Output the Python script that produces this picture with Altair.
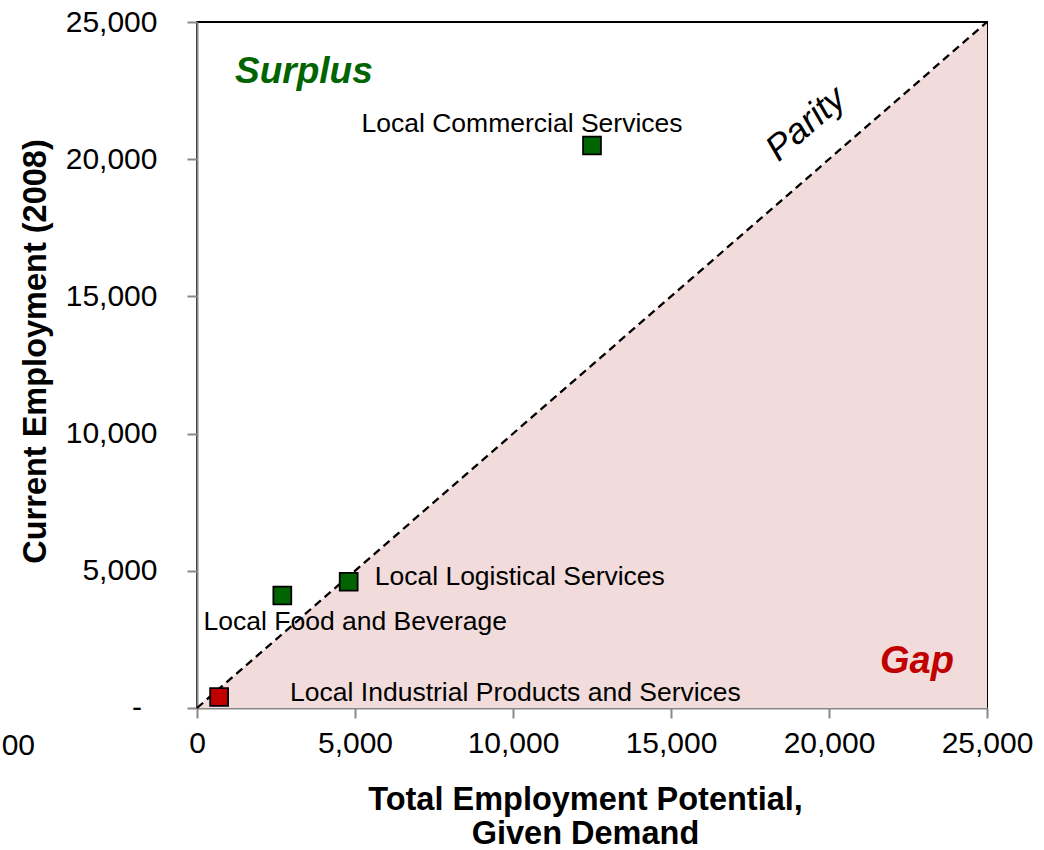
import altair as alt
import pandas as pd

# ---- data ----
clusters = ["Local Commercial Services", "Local Logistical Services",
            "Local Food and Beverage", "Local Industrial Products and Services"]
potential = [12500, 4800, 2700, 700]      # x: Total Employment Potential
current = [20500, 4600, 4100, 400]        # y: Current Employment (2008)
status = ["Surplus", "Surplus", "Surplus", "Gap"]
parity_vals = [0, 25000]
tick_vals = [0, 5000, 10000, 15000, 20000, 25000]

pts = pd.DataFrame({"cluster": clusters, "x": potential, "y": current, "status": status})
diag = pd.DataFrame({"x": parity_vals, "y": parity_vals})

FONT = "Liberation Sans"
GREEN = "#006400"
RED = "#C00000"

xscale = alt.Scale(domain=[0, 25000], nice=False, zero=False)
yscale = alt.Scale(domain=[0, 25000], nice=False, zero=False)

xaxis = alt.Axis(values=tick_vals, labelExpr="format(datum.value, ',')",
                 title=["Total Employment Potential,", "Given Demand"],
                 grid=False, domainColor="#888888", domainWidth=2, tickColor="#888888", tickWidth=2,
                 tickSize=10, labelFontSize=30, labelFont=FONT, labelColor="black", labelPadding=10,
                 labelFlush=False, labelOverlap=False,
                 titleFont=FONT, titleFontSize=32.5, titleFontWeight="bold", titleColor="black",
                 titleY=75, titleBaseline="top", titleLineHeight=34, titleX=388)
yaxis = alt.Axis(values=tick_vals,
                 labelExpr="datum.value == 0 ? '' : format(datum.value, ',')",
                 title="Current Employment (2008)", labelFlush=False, labelOverlap=False,
                 grid=False, domainColor="#888888", domainWidth=2, tickColor="#888888", tickWidth=2,
                 tickSize=10, labelFontSize=30, labelFont=FONT, labelColor="black", labelPadding=30,
                 titleFont=FONT, titleFontSize=32.5, titleFontWeight="bold", titleColor="black",
                 titleX=-162, titleY=329, titleAngle=270, titleAlign="center", titleBaseline="middle")

area = alt.Chart(diag).mark_area(color="#F2DCDB", opacity=1).encode(
    x=alt.X("x:Q", scale=xscale, axis=xaxis),
    y=alt.Y("y:Q", scale=yscale, axis=yaxis),
    y2=alt.datum(0),
)

line = alt.Chart(diag).mark_line(color="black", strokeDash=[8, 5], strokeWidth=2.3).encode(
    x=alt.X("x:Q", scale=xscale), y=alt.Y("y:Q", scale=yscale)
)

points = alt.Chart(pts).mark_point(shape="square", filled=True, size=320, stroke="black",
                                   strokeWidth=1.8, opacity=1).encode(
    x=alt.X("x:Q", scale=xscale), y=alt.Y("y:Q", scale=yscale),
    color=alt.Color("status:N", scale=alt.Scale(domain=["Surplus", "Gap"], range=[GREEN, RED]),
                    legend=None),
)

label_styles = {
    "Local Commercial Services": dict(align="center", dx=-70, dy=-21),
    "Local Logistical Services": dict(align="left", dx=26, dy=-5),
    "Local Food and Beverage": dict(align="center", dx=73, dy=27),
    "Local Industrial Products and Services": dict(align="left", dx=71, dy=-4),
}
labels = []
for name, st in label_styles.items():
    labels.append(
        alt.Chart(pts).transform_filter(alt.datum.cluster == name).mark_text(
            font=FONT, fontSize=26.5, color="black", baseline="middle", **st
        ).encode(x=alt.X("x:Q", scale=xscale), y=alt.Y("y:Q", scale=yscale), text="cluster:N")
    )

def note(txt, x, y, **kw):
    return alt.Chart(pd.DataFrame({"t": [txt]})).mark_text(font=FONT, **kw).encode(
        x=alt.value(x), y=alt.value(y), text="t:N")

surplus = note("Surplus", 38, 50, fontSize=37, fontWeight="bold", fontStyle="italic",
               color=GREEN, align="left", baseline="middle")
gap = note("Gap", 683, 640, fontSize=38, fontWeight="bold", fontStyle="italic",
           color=RED, align="left", baseline="middle")
parity = note("Parity", 609, 102, fontSize=36, fontStyle="italic", color="black",
              align="center", baseline="middle", angle=319)
stray = note("00", -162, 724, fontSize=30, color="black", align="right", baseline="middle")
zero_dash = note("-", -55, 686, fontSize=30, color="black", align="right", baseline="middle")

chart = alt.layer(area, line, points, *labels, surplus, gap, parity, stray, zero_dash).properties(
    width=790, height=686,
    autosize=alt.AutoSizeParams(type="none"),
    padding={"left": 197, "top": 22, "right": 57, "bottom": 142},
    background="white",
).configure_view(stroke="black", strokeWidth=2)

chart.save("out.html", embed_options={"renderer": "svg", "actions": False})
